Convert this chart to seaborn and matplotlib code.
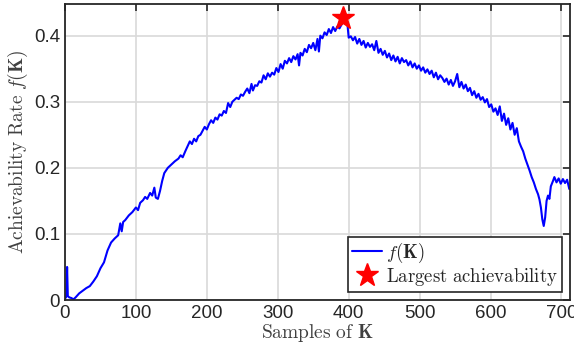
import numpy as np
import pandas as pd
import matplotlib
matplotlib.use("Agg")
import matplotlib.pyplot as plt
import seaborn as sns

# samples of K and the achievability rate
samples = [0, 2, 3, 4, 6, 9, 12, 15, 20, 25, 30, 35, 40, 45, 50, 55, 60, 65, 70, 75,
           78, 80, 82, 85, 90, 95, 100, 103, 106, 110, 113, 116, 120, 123, 126, 128, 131, 134, 137, 140,
           145, 150, 155, 160, 163, 166, 170, 173, 176, 179, 182, 185, 188, 191, 194, 197, 200, 203, 206, 209,
           212, 215, 218, 221, 224, 227, 230, 233, 236, 239, 242, 245, 248, 251, 254, 257, 260, 263, 265, 268,
           271, 274, 277, 280, 283, 286, 289, 292, 295, 298, 301, 304, 307, 310, 313, 316, 319, 322, 325, 328,
           330, 332, 335, 338, 341, 344, 347, 350, 353, 356, 358, 360, 363, 366, 369, 372, 375, 378, 381, 384,
           387, 390, 392, 395, 398, 400, 403, 406, 409, 412, 415, 418, 421, 424, 427, 430, 433, 436, 439, 442,
           445, 448, 451, 454, 457, 460, 463, 466, 469, 472, 475, 478, 481, 484, 487, 490, 493, 496, 499, 502,
           505, 508, 511, 514, 517, 520, 523, 526, 529, 532, 535, 538, 541, 544, 547, 550, 553, 556, 559, 562,
           565, 568, 571, 574, 577, 580, 583, 586, 589, 592, 595, 598, 601, 604, 607, 610, 613, 616, 619, 622,
           625, 628, 631, 634, 637, 640, 643, 646, 649, 652, 655, 658, 661, 664, 667, 669, 671, 673, 675, 677,
           679, 681, 683, 685, 688, 690, 693, 696, 699, 702, 705, 708, 711]
rate = [0.002, 0.005, 0.050, 0.006, 0.004, 0.003, 0.001, 0.004, 0.010, 0.014, 0.018, 0.021, 0.028, 0.036, 0.048, 0.057, 0.075, 0.087, 0.093, 0.098,
        0.116, 0.104, 0.118, 0.121, 0.128, 0.133, 0.140, 0.136, 0.147, 0.151, 0.156, 0.153, 0.162, 0.158, 0.170, 0.155, 0.153, 0.165, 0.180, 0.192,
        0.200, 0.205, 0.210, 0.214, 0.219, 0.216, 0.226, 0.233, 0.240, 0.236, 0.244, 0.240, 0.248, 0.250, 0.256, 0.262, 0.258, 0.266, 0.272, 0.268,
        0.276, 0.273, 0.281, 0.279, 0.286, 0.283, 0.298, 0.292, 0.300, 0.303, 0.306, 0.304, 0.311, 0.309, 0.315, 0.320, 0.313, 0.327, 0.317, 0.325,
        0.324, 0.331, 0.329, 0.340, 0.334, 0.343, 0.338, 0.344, 0.341, 0.351, 0.345, 0.357, 0.350, 0.362, 0.358, 0.366, 0.360, 0.369, 0.364, 0.372,
        0.355, 0.374, 0.370, 0.380, 0.375, 0.386, 0.381, 0.389, 0.378, 0.395, 0.376, 0.400, 0.396, 0.405, 0.401, 0.410, 0.404, 0.413, 0.407, 0.414,
        0.411, 0.417, 0.426, 0.418, 0.420, 0.397, 0.399, 0.393, 0.398, 0.388, 0.395, 0.386, 0.392, 0.382, 0.389, 0.383, 0.387, 0.378, 0.392, 0.374,
        0.380, 0.371, 0.377, 0.367, 0.373, 0.363, 0.370, 0.361, 0.368, 0.358, 0.366, 0.360, 0.363, 0.355, 0.361, 0.352, 0.358, 0.350, 0.355, 0.347,
        0.352, 0.344, 0.349, 0.342, 0.347, 0.337, 0.344, 0.334, 0.340, 0.336, 0.330, 0.335, 0.326, 0.333, 0.324, 0.331, 0.342, 0.322, 0.330, 0.320,
        0.326, 0.316, 0.321, 0.310, 0.316, 0.306, 0.312, 0.303, 0.307, 0.299, 0.304, 0.292, 0.296, 0.285, 0.290, 0.280, 0.293, 0.271, 0.282, 0.265,
        0.275, 0.258, 0.268, 0.250, 0.260, 0.240, 0.232, 0.225, 0.214, 0.205, 0.196, 0.186, 0.178, 0.168, 0.160, 0.152, 0.140, 0.122, 0.112, 0.125,
        0.150, 0.158, 0.153, 0.172, 0.180, 0.186, 0.178, 0.184, 0.176, 0.183, 0.177, 0.182, 0.168]

best_sample = [392]
best_rate = [0.426]

x_ticks = [0, 100, 200, 300, 400, 500, 600, 700]
y_ticks = [0, 0.1, 0.2, 0.3, 0.4]
y_labels = ["0", "0.1", "0.2", "0.3", "0.4"]

df = pd.DataFrame({"sample": samples, "rate": rate})
best = pd.DataFrame({"sample": best_sample, "rate": best_rate})

sns.set_style("white")
plt.rcParams["font.family"] = ["Liberation Sans", "DejaVu Sans"]
plt.rcParams["mathtext.fontset"] = "cm"

fig = plt.figure(figsize=(5.74, 3.58), dpi=100)
ax = fig.add_axes([0.1132, 0.162, 0.8798, 0.827])

sns.lineplot(data=df, x="sample", y="rate", ax=ax, color="blue", linewidth=1.5,
             label=r"$f(\mathbf{K})$", estimator=None, sort=False)
ax.plot(best["sample"], best["rate"], linestyle="none", marker="*", color="red",
        markersize=17, label=r"$\mathrm{Largest\ achievability}$")

ax.set_xlim(0, 712)
ax.set_ylim(0, 0.448)
ax.set_xticks(x_ticks)
ax.set_yticks(y_ticks)
ax.set_yticklabels(y_labels)
ax.grid(True, color="#d9d9d9", linewidth=1.2)
ax.tick_params(direction="in", top=True, right=True, labelsize=13.5, colors="#262626",
               length=5, width=1.2)
for s in ax.spines.values():
    s.set_color("#262626")
    s.set_linewidth(1.3)

ax.set_xlabel(r"$\mathrm{Samples\ of}\ \mathbf{K}$", fontsize=14, color="#404040", labelpad=0)
ax.set_ylabel(r"$\mathrm{Achievability\ Rate}\ f(\mathbf{K})$", fontsize=14, color="#404040", labelpad=3)

leg = ax.legend(loc="lower right", fontsize=13.5, frameon=True, fancybox=False,
                edgecolor="#262626", framealpha=1, borderpad=0.2, handlelength=1.6,
                handletextpad=0.2, labelspacing=0.05, borderaxespad=0.45)
leg.get_frame().set_linewidth(1.2)

fig.savefig("out.png", dpi=100)
plt.close()
